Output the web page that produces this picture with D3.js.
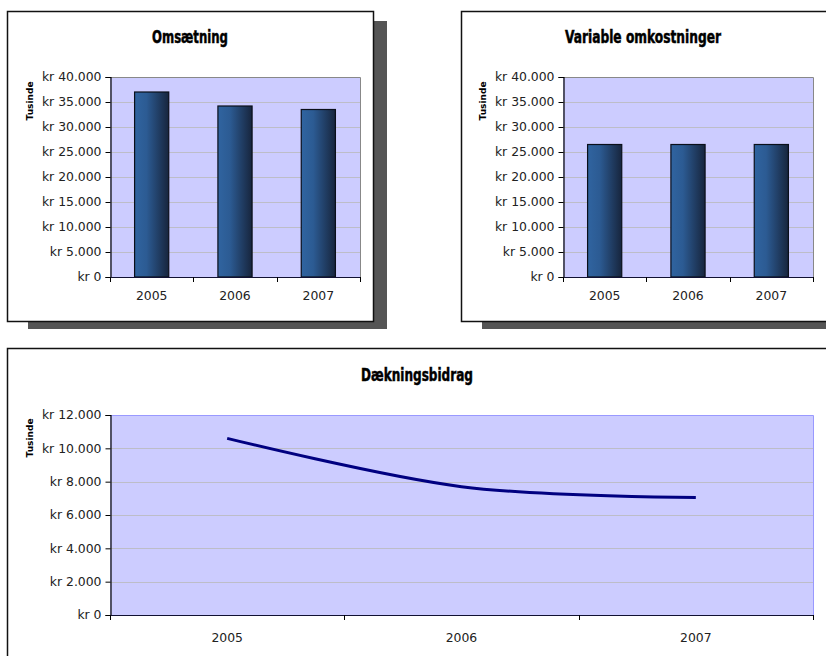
<!DOCTYPE html>
<html><head><meta charset="utf-8">
<script src="https://cdn.jsdelivr.net/npm/d3@7"></script>
<style>
html,body{margin:0;padding:0;background:#fff;}
svg{display:block;}
text{font-family:"DejaVu Sans",Verdana,sans-serif;}
</style></head>
<body>
<svg id="c" width="826" height="656"></svg>
<script>
// ---- data ----
const years = ["2005", "2006", "2007"];
const omsaetning = [37000, 34200, 33500];
const variableOmk = [26500, 26500, 26500];
const daekningsbidrag = [10600, 7700, 7050];
const barTicks = [0, 5000, 10000, 15000, 20000, 25000, 30000, 35000, 40000];
const lineTicks = [0, 2000, 4000, 6000, 8000, 10000, 12000];
const titles = ["Omsætning", "Variable omkostninger", "Dækningsbidrag"];
const unitLabel = "Tusinde";

const svg = d3.select("#c");
const loc = d3.formatLocale({decimal: ",", thousands: ".", grouping: [3], currency: ["kr ", ""]});
const fmt = v => "kr " + loc.format(",.0f")(v);

const defs = svg.append("defs");
const grad = defs.append("linearGradient").attr("id", "barGrad").attr("x1", "0").attr("x2", "1").attr("y1", "0").attr("y2", "0");
grad.append("stop").attr("offset", "0%").attr("stop-color", "#3064A0");
grad.append("stop").attr("offset", "35%").attr("stop-color", "#2C5B93");
grad.append("stop").attr("offset", "100%").attr("stop-color", "#17253D");

function box(x, y, w, h, shadow) {
  if (shadow) svg.append("rect").attr("x", shadow[0]).attr("y", shadow[1]).attr("width", shadow[2]).attr("height", shadow[3]).attr("fill", "#555555");
  svg.append("rect").attr("x", x + 0.5).attr("y", y + 0.5).attr("width", w).attr("height", h)
    .attr("fill", "#fff").attr("stroke", "#111").attr("stroke-width", 1.5);
}

function title(text, cx, y, len) {
  svg.append("text").attr("x", cx).attr("y", y).attr("text-anchor", "middle")
    .style("font-family", "'DejaVu Sans Condensed','Liberation Sans Narrow','DejaVu Sans',sans-serif")
    .style("font-weight", "bold").style("font-size", "18px").attr("fill", "#000")
    .attr("stroke", "#000").attr("stroke-width", 0.5)
    .attr("textLength", len).attr("lengthAdjust", "spacingAndGlyphs").text(text);
}

function unit(x, cy) {
  svg.append("text").attr("transform", `translate(${x},${cy}) rotate(-90)`).attr("text-anchor", "middle")
    .style("font-weight", "bold").style("font-size", "9px").attr("fill", "#000").text(unitLabel);
}

function plot(opt) {
  const {x0, x1, y0, y1, ticks, borderColor} = opt;
  const g = svg.append("g");
  const y = d3.scaleLinear().domain([0, d3.max(ticks)]).range([y1, y0]);
  const x = d3.scaleBand().domain(years).range([x0, x1]).padding(0);
  g.append("rect").attr("x", x0).attr("y", y0).attr("width", x1 - x0).attr("height", y1 - y0).attr("fill", "#CCCCFF");
  g.append("g").selectAll("line").data(ticks.filter(t => t > 0 && t < d3.max(ticks))).join("line")
    .attr("x1", x0).attr("x2", x1).attr("y1", d => Math.round(y(d)) + 0.5).attr("y2", d => Math.round(y(d)) + 0.5)
    .attr("stroke", "#BDBDC8").attr("stroke-width", 1);
  g.append("path").attr("d", `M${x0},${y0 + 0.5}H${x1 + 0.5}V${y1}`).attr("fill", "none").attr("stroke", borderColor).attr("stroke-width", 1);
  return {g, x, y};
}

function axes(p, opt) {
  const {x0, x1, y1, ticks, labelX, xLabelY} = opt;
  const {g, x, y} = p;
  const ya = g.append("g").attr("transform", `translate(${x0 + 0.5},0)`)
    .call(d3.axisLeft(y).tickValues(ticks).tickFormat(fmt).tickSize(5).tickPadding(x0 - labelX - 5));
  ya.select(".domain").attr("stroke", "#000").attr("stroke-width", 1.2);
  ya.selectAll(".tick line").attr("stroke", "#000");
  ya.selectAll(".tick text").style("font-family", "'DejaVu Sans',Verdana,sans-serif").style("font-size", "12.4px").attr("fill", "#222");
  g.append("line").attr("x1", x0).attr("x2", x1 + 1).attr("y1", y1 + 0.5).attr("y2", y1 + 0.5).attr("stroke", "#111133").attr("stroke-width", 1.2);
  const bounds = years.map(d => x(d)).concat([x1]);
  g.append("g").selectAll("line").data(bounds).join("line")
    .attr("x1", d => Math.round(d) + 0.5).attr("x2", d => Math.round(d) + 0.5).attr("y1", y1).attr("y2", y1 + 5)
    .attr("stroke", "#000").attr("stroke-width", 1);
  g.append("g").selectAll("text").data(years).join("text")
    .attr("x", d => x(d) + x.bandwidth() / 2).attr("y", xLabelY).attr("text-anchor", "middle")
    .style("font-size", "12.4px").attr("fill", "#222").text(d => d);
}

function barChart(vals, opt) {
  const p = plot(opt);
  const bw = p.x.bandwidth() * 0.41;
  p.g.append("g").selectAll("rect").data(vals).join("rect")
    .attr("x", (d, i) => p.x(years[i]) + p.x.bandwidth() / 2 - bw / 2)
    .attr("y", d => p.y(d)).attr("width", bw).attr("height", d => opt.y1 - p.y(d))
    .attr("fill", "url(#barGrad)").attr("stroke", "#0A0F1A").attr("stroke-width", 1.2);
  axes(p, opt);
}

function lineChart(vals, opt) {
  const p = plot(opt);
  const line = d3.line().x((d, i) => p.x(years[i]) + p.x.bandwidth() / 2).y(d => p.y(d)).curve(d3.curveCardinal.tension(0));
  p.g.append("path").datum(vals).attr("d", line).attr("fill", "none").attr("stroke", "#000080").attr("stroke-width", 3);
  axes(p, opt);
}

// ---- chart 1 ----
box(7, 11, 366, 310, [28, 21, 359, 308]);
title(titles[0], 190, 43, 76);
unit(33, 101);
barChart(omsaetning, {x0: 110, x1: 360, y0: 77, y1: 277, ticks: barTicks, borderColor: "#888888", labelX: 101, xLabelY: 300});

// ---- chart 2 ----
box(461, 11, 380, 310, [482, 21, 360, 308]);
title(titles[1], 643, 43, 156);
unit(486, 101);
barChart(variableOmk, {x0: 563, x1: 813, y0: 77, y1: 277, ticks: barTicks, borderColor: "#888888", labelX: 554, xLabelY: 300});

// ---- chart 3 ----
box(7, 348, 840, 320, null);
title(titles[2], 417, 381, 112);
unit(33, 438);
lineChart(daekningsbidrag, {x0: 110, x1: 813, y0: 415, y1: 615, ticks: lineTicks, borderColor: "#9999FF", labelX: 101, xLabelY: 642});
</script>
</body></html>
